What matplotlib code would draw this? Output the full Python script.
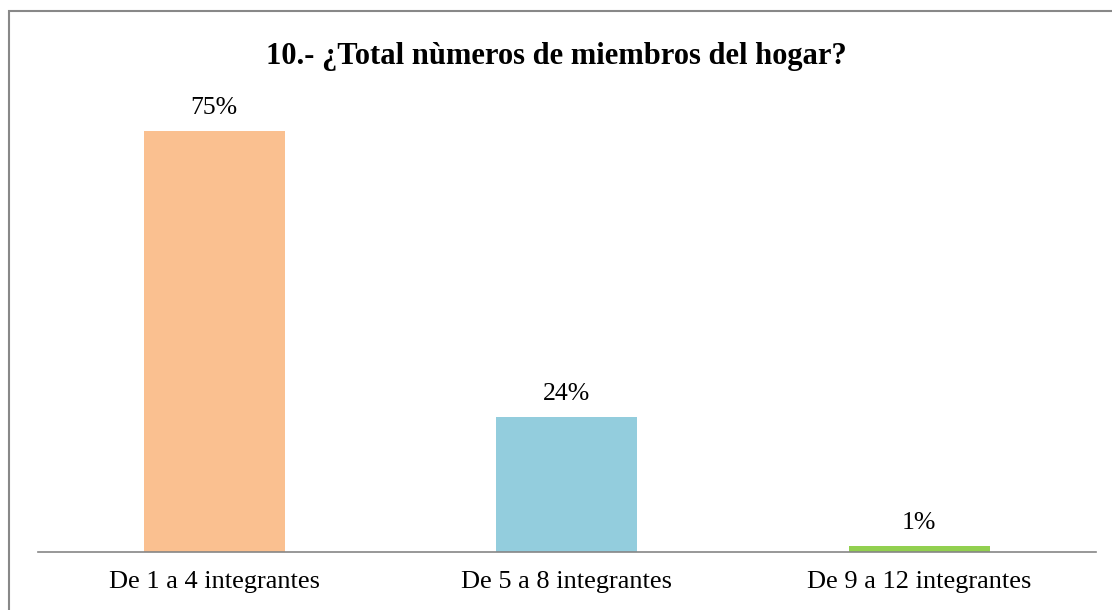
import matplotlib.pyplot as plt
from matplotlib.patches import Rectangle

categories = ['De 1 a 4 integrantes', 'De 5 a 8 integrantes', 'De 9 a 12 integrantes']
percentages = [75, 24, 1]
bar_colors = ['#FAC090', '#93CDDD', '#92D050']
title = '10.- ¿Total nùmeros de miembros del hogar?'

plt.rcParams['font.family'] = ['Liberation Serif', 'DejaVu Serif']

fig = plt.figure(figsize=(11.12, 6.10), dpi=100)
ax = fig.add_axes([0.0342, 0.0951, 0.951, 0.736])

x = range(len(categories))
bars = ax.bar(x, percentages, width=0.4, color=bar_colors)
for b, p in zip(bars, percentages):
    ax.annotate(f'{p}%', (b.get_x() + b.get_width() / 2, b.get_height()),
                xytext=(0, 9), textcoords='offset points',
                ha='center', va='bottom', fontsize=18.5)

ax.set_xlim(-0.5, 2.5)
ax.set_ylim(0, 80)
ax.set_xticks(list(x))
ax.set_xticklabels(categories, fontsize=19)
ax.tick_params(axis='x', length=0, pad=14)
ax.set_yticks([])
for s in ['top', 'right', 'left']:
    ax.spines[s].set_visible(False)
ax.spines['bottom'].set_color('#868686')
ax.spines['bottom'].set_linewidth(1.2)

fig.text(0.5, 0.908, title, ha='center', va='center', fontsize=22, fontweight='bold')

# chart frame
fig.add_artist(Rectangle((9 / 1112, -0.05), 1.2, 1 - 11 / 610 + 0.05,
                         transform=fig.transFigure, fill=False,
                         edgecolor='#888888', linewidth=1.5))

fig.savefig('out.png', dpi=100)
